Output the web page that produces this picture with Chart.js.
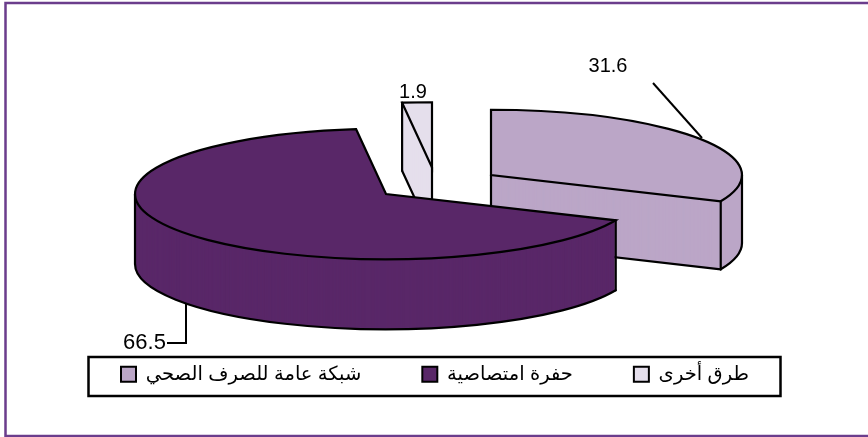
<!DOCTYPE html>
<html><head><meta charset="utf-8">
<style>html,body{margin:0;padding:0;background:#fff}#w{width:868px;height:437px;position:relative}</style>
<script src="https://cdn.jsdelivr.net/npm/chart.js@4"></script>
</head><body><div id="w"><canvas id="c" width="868" height="437"></canvas></div>
<script>
const categories = ['شبكة عامة للصرف الصحي', 'حفرة امتصاصية', 'طرق أخرى'];
const values = [31.6, 66.5, 1.9];
const sliceColors = ['#BBA6C7', '#592768', '#E5DFEC'];

const view = {
  cx: 480, cy: 180, squash: 0.26,
  shift: [[11, -5], [-94, 14], [-48, -12.5]],
  depth: [68, 70, 68],
  order: [2, 0, 1],
  // which vertical wall edges are visible for each slice
  apexEdge: [true, false, true],
  cornerEdge: ['end', 'start', 'start'],
  labelPos: [[608, 66], [144.5, 343], [413, 92]],
  labelSize: [20, 22, 20],
  leaders: [
    [[653, 83], [702, 138]],
    [[167, 343], [186, 343], [186, 303]],
    null
  ]
};

function place(ctx, arc, i, d) {
  ctx.translate(view.cx + view.shift[i][0], view.cy + view.shift[i][1] + d);
  ctx.scale(1, view.squash);
  ctx.translate(-arc.x, -arc.y);
}
function outline(ctx, arc, i, d) {
  ctx.save();
  place(ctx, arc, i, d);
  ctx.beginPath();
  ctx.arc(arc.x, arc.y, arc.outerRadius, arc.startAngle, arc.endAngle);
  ctx.lineTo(arc.x, arc.y);
  ctx.closePath();
  ctx.restore();
  ctx.stroke();
}
function frontArc(ctx, arc, i, d) {
  const from = Math.max(arc.startAngle, 0), to = Math.min(arc.endAngle, Math.PI);
  if (to <= from) return;
  ctx.save();
  place(ctx, arc, i, d);
  ctx.beginPath();
  ctx.arc(arc.x, arc.y, arc.outerRadius, from, to);
  ctx.restore();
  ctx.stroke();
}
function screenPoint(arc, i, angle, r) {
  return [view.cx + view.shift[i][0] + Math.cos(angle) * r,
          view.cy + view.shift[i][1] + Math.sin(angle) * r * view.squash];
}
function vertical(ctx, p, d) {
  ctx.beginPath();
  ctx.moveTo(p[0], p[1]);
  ctx.lineTo(p[0], p[1] + d);
  ctx.stroke();
}
const pie3d = {
  id: 'pie3d',
  afterLayout(chart) {
    const l = chart.legend, pad = l.options.labels.padding;
    l.top = 374.5 - 10 - pad;
    l.left = 121 - pad;
  },
  beforeDraw(chart) {
    const ctx = chart.ctx;
    ctx.save();
    ctx.fillStyle = '#fff';
    ctx.fillRect(0, 0, chart.width, chart.height);
    ctx.strokeStyle = '#6B3D8C';
    ctx.lineWidth = 2.5;
    ctx.strokeRect(5.5, 3, 870, 433);
    ctx.strokeStyle = '#000';
    ctx.lineWidth = 2.5;
    ctx.strokeRect(88.5, 357, 692, 39);
    ctx.restore();
  },
  beforeDatasetsDraw(chart) {
    const ctx = chart.ctx;
    const arcs = chart.getDatasetMeta(0).data;
    ctx.save();
    ctx.strokeStyle = '#000';
    ctx.lineWidth = 2.2;
    ctx.lineJoin = 'miter';
    ctx.lineCap = 'round';
    view.order.forEach(i => {
      const arc = arcs[i], depth = view.depth[i], r = arc.outerRadius;
      for (let d = depth; d >= 0; d--) {
        ctx.save();
        place(ctx, arc, i, d);
        arc.draw(ctx);
        ctx.restore();
      }
      frontArc(ctx, arc, i, depth);
      [0, Math.PI, Math.PI * 2].forEach(a => {
        if (a > arc.startAngle && a < arc.endAngle) vertical(ctx, screenPoint(arc, i, a, r), depth);
      });
      const corner = screenPoint(arc, i, view.cornerEdge[i] === 'end' ? arc.endAngle : arc.startAngle, r);
      vertical(ctx, corner, depth);
      if (view.apexEdge[i]) {
        const apex = screenPoint(arc, i, 0, 0);
        vertical(ctx, apex, depth);
        ctx.beginPath();
        ctx.moveTo(apex[0], apex[1] + depth);
        ctx.lineTo(corner[0], corner[1] + depth);
        ctx.stroke();
      }
      outline(ctx, arc, i, 0);
    });
    ctx.restore();
    return false;
  },
  afterDraw(chart) {
    const ctx = chart.ctx;
    ctx.save();
    ctx.fillStyle = '#000';
    ctx.strokeStyle = '#000';
    ctx.lineWidth = 2;
    ctx.textAlign = 'center';
    ctx.textBaseline = 'middle';
    values.forEach((v, i) => {
      ctx.font = view.labelSize[i] + 'px "Liberation Sans", Arial, sans-serif';
      ctx.fillText(v.toFixed(1), view.labelPos[i][0], view.labelPos[i][1]);
      const path = view.leaders[i];
      if (path) {
        ctx.beginPath();
        path.forEach((p, k) => k ? ctx.lineTo(p[0], p[1]) : ctx.moveTo(p[0], p[1]));
        ctx.stroke();
      }
    });
    ctx.restore();
  }
};

new Chart(document.getElementById('c'), {
  type: 'pie',
  data: {
    labels: categories,
    datasets: [{ data: values, backgroundColor: sliceColors, borderWidth: 0 }]
  },
  options: {
    responsive: false,
    animation: false,
    radius: 251,
    layout: { padding: 0 },
    plugins: {
      tooltip: { enabled: false },
      legend: {
        position: 'bottom',
        align: 'start',
        labels: {
          color: '#000',
          boxWidth: 15,
          boxHeight: 15,
          padding: 61,
          font: { family: '"Liberation Sans", "DejaVu Sans", sans-serif', size: 19.5 },
          generateLabels(chart) {
            return chart.data.labels.map((t, i) => ({
              text: t, fillStyle: sliceColors[i], strokeStyle: '#000', lineWidth: 2,
              fontColor: '#000', hidden: false, index: i
            }));
          }
        }
      }
    }
  },
  plugins: [pie3d]
});
</script></body></html>
